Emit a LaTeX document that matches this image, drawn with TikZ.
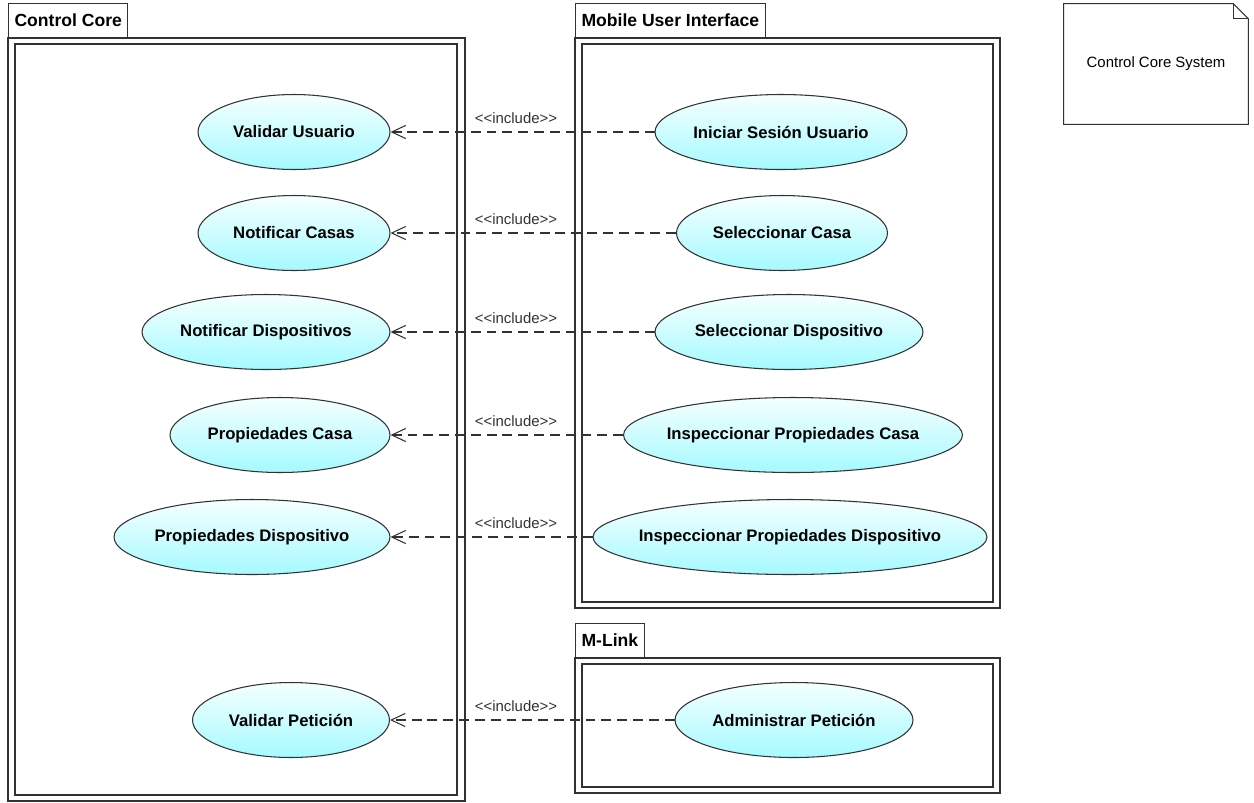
\documentclass[tikz,border=0pt]{standalone}
\usepackage{fontspec}
\setmainfont{Liberation Sans}
\usetikzlibrary{shapes.geometric,arrows.meta}
\definecolor{ucline}{RGB}{50,50,50}
\definecolor{uctop}{RGB}{245,255,255}
\definecolor{ucbot}{RGB}{165,250,255}
\tikzset{
	uc/.style={ellipse, draw=ucline, line width=0.6pt, top color=uctop, bottom color=ucbot, minimum height=1.5cm, inner sep=0pt,
		font=\fontsize{9.5}{11}\selectfont\bfseries, execute at begin node={\hbox to 0pt\bgroup\hss}, execute at end node={\hss\egroup}},
	pkg/.style={draw=ucline, line width=0.6pt},
	pkgtab/.style={pkg, anchor=south west, inner xsep=0.12cm, minimum height=0.68cm, font=\fontsize{10}{12}\selectfont\bfseries},
	incl/.style={draw=ucline, line width=0.6pt, dash pattern=on 5.6pt off 3.4pt, -{Straight Barb[length=8pt,width=7.5pt]}},
	incllbl/.style={font=\fontsize{8.5}{10}\selectfont, text=ucline, inner sep=0pt}
}
\begin{document}
\begin{tikzpicture}[x=0.02cm, y=-0.02cm]
	\useasboundingbox (0,0) rectangle (1254,802);
	\node [pkgtab] (cctab) at (8,38) {Control Core};
	\draw [pkg] (cctab.south west) rectangle (465,801) (15,44) rectangle (457,795);
	\node [pkgtab] (muitab) at (575,38) {Mobile User Interface};
	\draw [pkg] (muitab.south west) rectangle (1000,608) (582,44) rectangle (993,602);
	\node [pkgtab] (mltab) at (575,658) {M-Link};
	\draw [pkg] (mltab.south west) rectangle (1000,793) (582,664) rectangle (993,787);
	\node [minimum width=3.68cm, minimum height=2.4cm, font=\fontsize{8.5}{10}\selectfont] (ccsys) at (1156,64) {Control Core System};
	\draw [pkg] (ccsys.north west) -- ([xshift=-0.3cm]ccsys.north east) -- ([yshift=-0.3cm]ccsys.north east) -- (ccsys.south east) -- (ccsys.south west) -- cycle;
	\draw [pkg] ([xshift=-0.3cm]ccsys.north east) |- ([yshift=-0.3cm]ccsys.north east);
	\node [uc, minimum width=3.84cm] (valusr) at (294,132) {Validar Usuario};
	\node [uc, minimum width=3.84cm] (notcasas) at (294,233) {Notificar Casas};
	\node [uc, minimum width=4.96cm] (notdisp) at (266,332) {Notificar Dispositivos};
	\node [uc, minimum width=4.4cm] (propcasa) at (280,435) {Propiedades Casa};
	\node [uc, minimum width=5.52cm] (propdisp) at (252,537) {Propiedades Dispositivo};
	\node [uc, minimum width=3.94cm] (valpet) at (291,720) {Validar Petición};
	\node [uc, minimum width=5.04cm] (inises) at (781,132) {Iniciar Sesión Usuario};
	\node [uc, minimum width=4.22cm] (selcasa) at (782,233) {Seleccionar Casa};
	\node [uc, minimum width=5.36cm] (seldisp) at (789,332) {Seleccionar Dispositivo};
	\node [uc, minimum width=6.78cm] (inspcasa) at (793,435) {Inspeccionar Propiedades Casa};
	\node [uc, minimum width=7.88cm] (inspdisp) at (790,537) {Inspeccionar Propiedades Dispositivo};
	\node [uc, minimum width=4.76cm] (admpet) at (794,720) {Administrar Petición};
	\foreach \a/\b/\y in {inises/valusr/132, selcasa/notcasas/233, seldisp/notdisp/332, inspcasa/propcasa/435, inspdisp/propdisp/537, admpet/valpet/720}
		\draw [incl] (\a) -- (\b) node [incllbl] at (516,\y-14) {{<}{<}include{>}{>}};
\end{tikzpicture}
\end{document}
